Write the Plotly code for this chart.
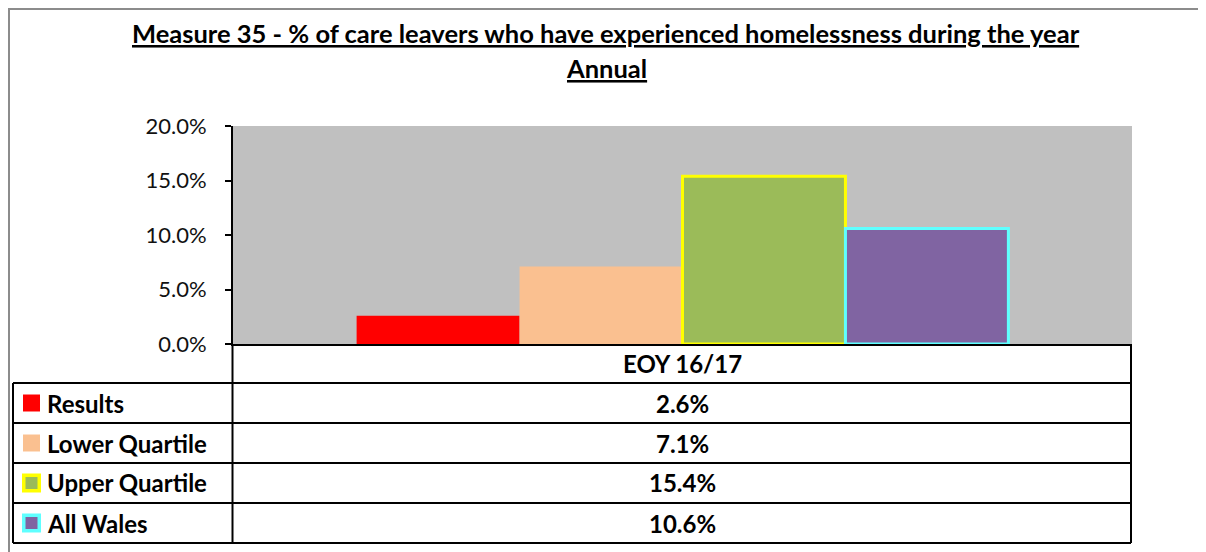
import plotly.graph_objects as go

# ---- data ----
categories = ["EOY 16/17"]
series_names = ["Results", "Lower Quartile", "Upper Quartile", "All Wales"]
results = [0.026]
lower_quartile = [0.071]
upper_quartile = [0.154]
all_wales = [0.106]
y_ticks = [0.0, 0.05, 0.10, 0.15, 0.20]

series_values = [results, lower_quartile, upper_quartile, all_wales]
fill_colors = ["#FF0000", "#FAC090", "#9BBB59", "#8064A2"]
edge_colors = ["#FF0000", "#FAC090", "#FFFF00", "#5FFFFF"]
edge_widths = [0, 0, 3, 3]

OFF = 8  # page body margin offset
W, H = 1206, 552
L, R, T, B = 233 - OFF, 1132 - OFF, 126 - OFF, 344 - OFF  # plot area in figure pixels


def px(x):
    return (x - OFF - L) / (R - L)


def py(y):
    return (B - (y - OFF)) / (B - T)


FONT = "Lato"

fig = go.Figure()
for name, vals, fc, ec, ew in zip(series_names, series_values, fill_colors, edge_colors, edge_widths):
    fig.add_trace(go.Bar(
        name=name, x=categories, y=vals,
        marker=dict(color=fc, line=dict(color=ec, width=ew)),
        showlegend=False,
    ))

fig.update_layout(
    width=W, height=H,
    margin=dict(l=L, r=W - R, t=T, b=H - B, pad=0),
    paper_bgcolor="white",
    plot_bgcolor="#C0C0C0",
    barmode="group",
    bargap=0.275,
    bargroupgap=0,
    font=dict(family=FONT, color="black"),
)
fig.update_xaxes(
    showticklabels=False, showline=True, linecolor="black", linewidth=2,
    showgrid=False, zeroline=False, ticks="",
)
fig.update_yaxes(
    range=[0, 0.2], tickvals=y_ticks, tickformat=".1%",
    ticks="outside", ticklen=6, tickcolor="black", tickwidth=2,
    ticklabelstandoff=14,
    showline=True, linecolor="black", linewidth=2, showgrid=False, zeroline=False,
    tickfont=dict(family=FONT, size=22, color="#111111"),
)

shapes = []
line = dict(color="black", width=2)
# horizontal table lines
for yy in [383, 423, 463, 503, 543]:
    shapes.append(dict(type="line", xref="paper", yref="paper",
                       x0=px(13), x1=px(1131), y0=py(yy), y1=py(yy), line=line))
# vertical lines
shapes.append(dict(type="line", xref="paper", yref="paper",
                   x0=px(13), x1=px(13), y0=py(383), y1=py(543), line=line))
shapes.append(dict(type="line", xref="paper", yref="paper",
                   x0=px(232.5), x1=px(232.5), y0=py(344), y1=py(543), line=line))
shapes.append(dict(type="line", xref="paper", yref="paper",
                   x0=px(1131), x1=px(1131), y0=py(344), y1=py(543), line=line))
# outer chart border (gray, top and left) - as close to the page edge as the figure allows
shapes.append(dict(type="line", xref="paper", yref="paper",
                   x0=px(8), x1=px(1214), y0=py(9), y1=py(9),
                   line=dict(color="#8C8C8C", width=2)))
shapes.append(dict(type="line", xref="paper", yref="paper",
                   x0=px(9), x1=px(9), y0=py(8), y1=py(560),
                   line=dict(color="#8C8C8C", width=2)))

annotations = []
# title
annotations.append(dict(
    text="<u>Measure 35 - % of care leavers who have experienced homelessness during the year</u>",
    xref="paper", yref="paper", x=px(606), y=py(33), xanchor="center", yanchor="middle",
    showarrow=False, font=dict(family=FONT, size=25.5, color="black", weight="bold")))
annotations.append(dict(
    text="<u>Annual</u>",
    xref="paper", yref="paper", x=px(606), y=py(68), xanchor="center", yanchor="middle",
    showarrow=False, font=dict(family=FONT, size=25.5, color="black", weight="bold")))
# header
annotations.append(dict(
    text=categories[0], xref="paper", yref="paper", x=px(682), y=py(363),
    xanchor="center", yanchor="middle", showarrow=False,
    font=dict(family=FONT, size=24, color="black", weight="bold")))

row_centers = [403, 443, 483, 523]
for name, vals, fc, ec, ew, yc in zip(series_names, series_values, fill_colors,
                                      edge_colors, edge_widths, row_centers):
    # legend swatch
    if ew > 0:
        shapes.append(dict(type="rect", xref="paper", yref="paper",
                           x0=px(22), x1=px(41), y0=py(yc - 9.5), y1=py(yc + 9.5),
                           fillcolor=ec, line=dict(width=0)))
        shapes.append(dict(type="rect", xref="paper", yref="paper",
                           x0=px(25.5), x1=px(37.5), y0=py(yc - 6), y1=py(yc + 6),
                           fillcolor=fc, line=dict(width=0)))
    else:
        shapes.append(dict(type="rect", xref="paper", yref="paper",
                           x0=px(23), x1=px(40), y0=py(yc - 8.5), y1=py(yc + 8.5),
                           fillcolor=fc, line=dict(width=0)))
    annotations.append(dict(
        text=name, xref="paper", yref="paper", x=px(45), y=py(yc),
        xanchor="left", yanchor="middle", showarrow=False,
        font=dict(family=FONT, size=24, color="black", weight="bold")))
    annotations.append(dict(
        text=f"{vals[0] * 100:.1f}%", xref="paper", yref="paper", x=px(682), y=py(yc),
        xanchor="center", yanchor="middle", showarrow=False,
        font=dict(family=FONT, size=24, color="black", weight="bold")))

fig.update_layout(shapes=shapes, annotations=annotations)
fig.write_html("out.html")
